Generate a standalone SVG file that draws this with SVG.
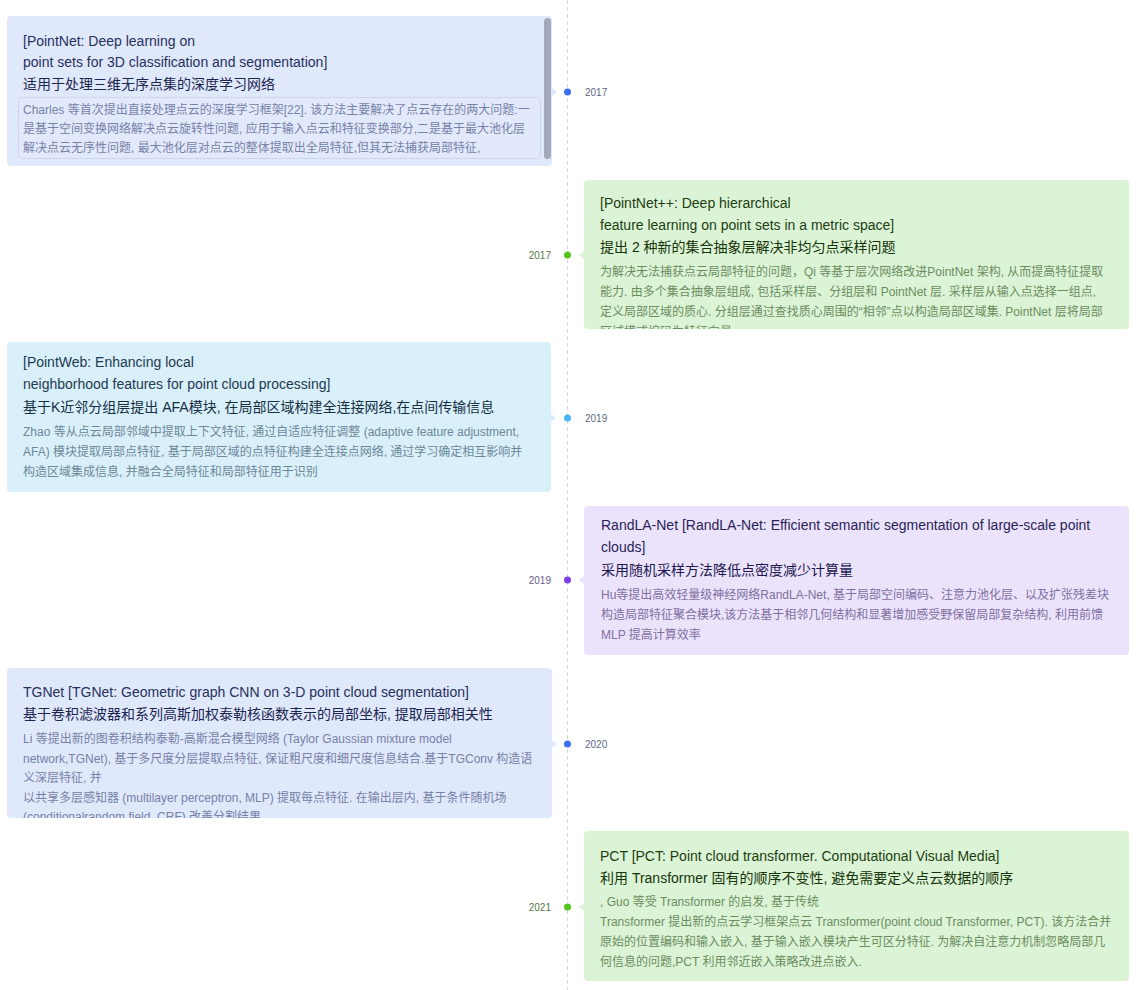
<svg xmlns="http://www.w3.org/2000/svg" width="1136" height="990" viewBox="0 0 1136 990">
<style>
text{font-family:"Liberation Sans","Noto Sans CJK SC",sans-serif}
.t{font-size:14px}
.d{font-size:12px}
.y{font-size:10px}
.blue .t{fill:#26315c}.blue .d{fill:#7682a6}.blue .y{fill:#5d6685}
.green .t{fill:#1e3d12}.green .d{fill:#6c8c5e}.green .y{fill:#587a48}
.cyan .t{fill:#1d3a4f}.cyan .d{fill:#6d8798}.cyan .y{fill:#5a6c7a}
.purple .t{fill:#2a1f57}.purple .d{fill:#7f6fa0}.purple .y{fill:#6a5a8a}
</style>
<defs>
<clipPath id="c1"><rect x="7" y="16" width="545" height="150" rx="4"/></clipPath>
<clipPath id="c2"><rect x="584" y="180" width="545" height="149" rx="4"/></clipPath>
<clipPath id="c5"><rect x="7" y="668" width="545" height="150" rx="4"/></clipPath>
</defs>
<rect width="1136" height="990" fill="#ffffff"/>
<g id="connectors">
<line x1="567.5" y1="0" x2="567.5" y2="990" stroke="#d6d8de" stroke-width="1" stroke-dasharray="4 3"/>
</g>

<g id="n1" class="blue">
<rect x="7" y="16" width="545" height="150" rx="4" fill="#e0e8fc"/>
<path d="M552 88 L557 92 L552 96 Z" fill="#e0e8fc"/>
<g clip-path="url(#c1)">
<text class="t" x="23" y="46">[PointNet: Deep learning on</text>
<text class="t" x="23" y="67">point sets for 3D classification and segmentation]</text>
<text class="t" x="23" y="89" style="fill:#1b2550">适用于处理三维无序点集的深度学习网络</text>
<rect x="18.5" y="97.5" width="522" height="61" rx="3" fill="#e3e9fc" stroke="#ccd5ee"/>
<text class="d" x="23" y="114">Charles 等首次提出直接处理点云的深度学习框架[22]. 该方法主要解决了点云存在的两大问题:一</text>
<text class="d" x="23" y="133">是基于空间变换网络解决点云旋转性问题, 应用于输入点云和特征变换部分,二是基于最大池化层</text>
<text class="d" x="23" y="152">解决点云无序性问题, 最大池化层对点云的整体提取出全局特征,但其无法捕获局部特征,</text>
</g>
<rect x="544" y="18" width="7" height="141" rx="3.5" fill="#a3a8ba"/>
<circle cx="567.5" cy="92" r="3.5" fill="#3d6ef3"/>
<text class="y" x="585" y="96">2017</text>
</g>

<g id="n2" class="green">
<rect x="584" y="180" width="545" height="149" rx="4" fill="#dbf4d6"/>
<path d="M584 251 L579 255 L584 259 Z" fill="#dbf4d6"/>
<g clip-path="url(#c2)">
<text class="t" x="600" y="208">[PointNet++: Deep hierarchical</text>
<text class="t" x="600" y="230">feature learning on point sets in a metric space]</text>
<text class="t" x="600" y="252" style="fill:#173309">提出 2 种新的集合抽象层解决非均匀点采样问题</text>
<text class="d" x="600" y="276">为解决无法捕获点云局部特征的问题，Qi 等基于层次网络改进PointNet 架构, 从而提高特征提取</text>
<text class="d" x="600" y="296">能力. 由多个集合抽象层组成, 包括采样层、分组层和 PointNet 层. 采样层从输入点选择一组点,</text>
<text class="d" x="600" y="316">定义局部区域的质心. 分组层通过查找质心周围的“相邻”点以构造局部区域集. PointNet 层将局部</text>
<text class="d" x="600" y="336">区域模式编码为特征向量</text>
</g>
<circle cx="567.5" cy="255" r="3.5" fill="#52c41a"/>
<text class="y" x="551" y="259" text-anchor="end">2017</text>
</g>

<g id="n3" class="cyan">
<rect x="7" y="342" width="544" height="150" rx="4" fill="#d9f0fb"/>
<path d="M551 414 L556 418 L551 422 Z" fill="#d9f0fb"/>
<text class="t" x="23" y="367">[PointWeb: Enhancing local</text>
<text class="t" x="23" y="389">neighborhood features for point cloud processing]</text>
<text class="t" x="23" y="412" style="fill:#142f42">基于K近邻分组层提出 AFA模块, 在局部区域构建全连接网络,在点间传输信息</text>
<text class="d" x="23" y="436">Zhao 等从点云局部邻域中提取上下文特征, 通过自适应特征调整 (adaptive feature adjustment,</text>
<text class="d" x="23" y="456">AFA) 模块提取局部点特征, 基于局部区域的点特征构建全连接点网络, 通过学习确定相互影响并</text>
<text class="d" x="23" y="476">构造区域集成信息, 并融合全局特征和局部特征用于识别</text>
<circle cx="567.5" cy="418" r="3.5" fill="#45b6f7"/>
<text class="y" x="585" y="422">2019</text>
</g>

<g id="n4" class="purple">
<rect x="584" y="506" width="545" height="149" rx="4" fill="#ebe3fc"/>
<path d="M584 576 L579 580 L584 584 Z" fill="#ebe3fc"/>
<text class="t" x="601" y="530">RandLA-Net [RandLA-Net: Efficient semantic segmentation of large-scale point</text>
<text class="t" x="601" y="552">clouds]</text>
<text class="t" x="601" y="575" style="fill:#211650">采用随机采样方法降低点密度减少计算量</text>
<text class="d" x="601" y="599">Hu等提出高效轻量级神经网络RandLA-Net, 基于局部空间编码、注意力池化层、以及扩张残差块</text>
<text class="d" x="601" y="619">构造局部特征聚合模块,该方法基于相邻几何结构和显著增加感受野保留局部复杂结构, 利用前馈</text>
<text class="d" x="601" y="639">MLP 提高计算效率</text>
<circle cx="567.5" cy="580" r="3.5" fill="#7b3ff0"/>
<text class="y" x="551" y="584" text-anchor="end">2019</text>
</g>

<g id="n5" class="blue">
<rect x="7" y="668" width="545" height="150" rx="4" fill="#e0e8fc"/>
<path d="M552 740 L557 744 L552 748 Z" fill="#e0e8fc"/>
<g clip-path="url(#c5)">
<text class="t" x="23" y="697">TGNet [TGNet: Geometric graph CNN on 3-D point cloud segmentation]</text>
<text class="t" x="23" y="719" style="fill:#1b2550">基于卷积滤波器和系列高斯加权泰勒核函数表示的局部坐标, 提取局部相关性</text>
<text class="d" x="23" y="743">Li 等提出新的图卷积结构泰勒-高斯混合模型网络 (Taylor Gaussian mixture model</text>
<text class="d" x="23" y="763">network,TGNet), 基于多尺度分层提取点特征, 保证粗尺度和细尺度信息结合.基于TGConv 构造语</text>
<text class="d" x="23" y="782">义深层特征, 并</text>
<text class="d" x="23" y="802">以共享多层感知器 (multilayer perceptron, MLP) 提取每点特征. 在输出层内, 基于条件随机场</text>
<text class="d" x="23" y="821">(conditionalrandom field, CRF) 改善分割结果</text>
</g>
<circle cx="567.5" cy="744" r="3.5" fill="#3d6ef3"/>
<text class="y" x="585" y="748">2020</text>
</g>

<g id="n6" class="green">
<rect x="584" y="831" width="545" height="150" rx="4" fill="#dbf4d6"/>
<path d="M584 903 L579 907 L584 911 Z" fill="#dbf4d6"/>
<text class="t" x="600" y="861">PCT [PCT: Point cloud transformer. Computational Visual Media]</text>
<text class="t" x="600" y="883" style="fill:#173309">利用 Transformer 固有的顺序不变性, 避免需要定义点云数据的顺序</text>
<text class="d" x="600" y="906">, Guo 等受 Transformer 的启发, 基于传统</text>
<text class="d" x="600" y="926">Transformer 提出新的点云学习框架点云 Transformer(point cloud Transformer, PCT). 该方法合并</text>
<text class="d" x="600" y="946">原始的位置编码和输入嵌入, 基于输入嵌入模块产生可区分特征. 为解决自注意力机制忽略局部几</text>
<text class="d" x="600" y="966">何信息的问题,PCT 利用邻近嵌入策略改进点嵌入.</text>
<circle cx="567.5" cy="907" r="3.5" fill="#52c41a"/>
<text class="y" x="551" y="911" text-anchor="end">2021</text>
</g>
</svg>
